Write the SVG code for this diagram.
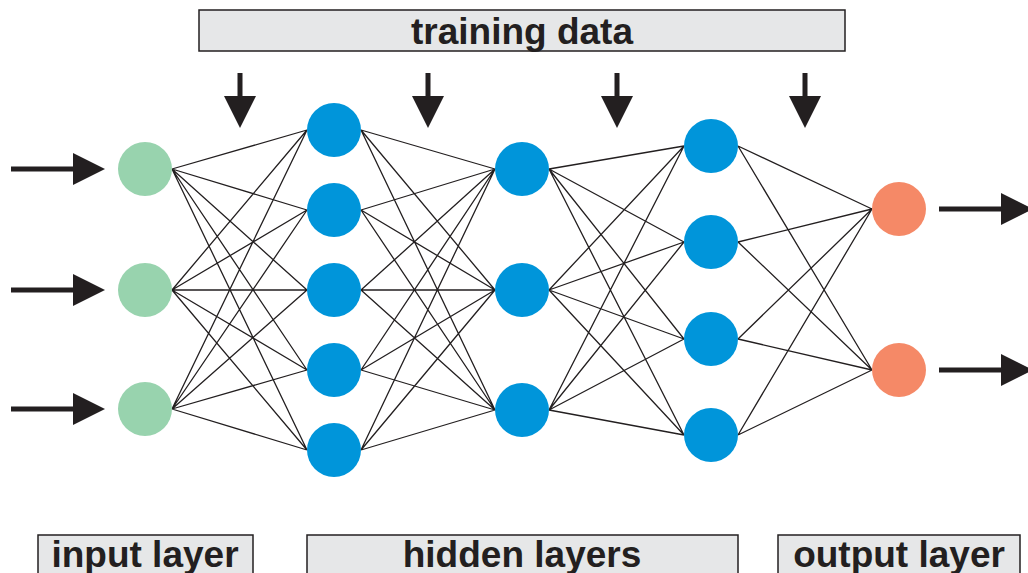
<svg xmlns="http://www.w3.org/2000/svg" width="1028" height="573" viewBox="0 0 1028 573">
  <style>
    .label-box { fill: #e6e7e8; stroke: #231f20; stroke-width: 1.5; }
    .label { font-family: "Liberation Sans", Arial, sans-serif; font-weight: bold; font-size: 37px; fill: #231f20; text-anchor: middle; }
    .edge { fill: none; stroke: #231f20; stroke-width: 1.3; }
    .arrow { fill: #231f20; }
    .in { fill: #98d3ae; }
    .hid { fill: #0095da; }
    .out { fill: #f58967; }
  </style>

  <!-- banner and layer captions -->
  <g id="training-data">
    <rect class="label-box" x="199" y="10" width="646" height="41"/>
    <text class="label" x="522" y="44">training data</text>
  </g>
  <g id="input-layer-label">
    <rect class="label-box" x="38" y="535" width="215" height="45"/>
    <text class="label" x="145" y="567">input layer</text>
  </g>
  <g id="hidden-layers-label">
    <rect class="label-box" x="307" y="535" width="431" height="45"/>
    <text class="label" x="522" y="567">hidden layers</text>
  </g>
  <g id="output-layer-label">
    <rect class="label-box" x="778" y="535" width="242" height="45"/>
    <text class="label" x="899" y="567">output layer</text>
  </g>

  <!-- weighted connections between consecutive layers -->
  <g id="connectors">
    <path class="edge" d="
      M172 169 L307 130 M172 169 L307 210 M172 169 L307 290 M172 169 L307 370 M172 169 L307 450
      M172 290 L307 130 M172 290 L307 210 M172 290 L307 290 M172 290 L307 370 M172 290 L307 450
      M172 409 L307 130 M172 409 L307 210 M172 409 L307 290 M172 409 L307 370 M172 409 L307 450"/>
    <path class="edge" d="
      M361 130 L495 169 M361 130 L495 290 M361 130 L495 410
      M361 210 L495 169 M361 210 L495 290 M361 210 L495 410
      M361 290 L495 169 M361 290 L495 290 M361 290 L495 410
      M361 370 L495 169 M361 370 L495 290 M361 370 L495 410
      M361 450 L495 169 M361 450 L495 290 M361 450 L495 410"/>
    <path class="edge" d="
      M549 169 L684 146 M549 169 L684 242 M549 169 L684 339 M549 169 L684 435
      M549 290 L684 146 M549 290 L684 242 M549 290 L684 339 M549 290 L684 435
      M549 410 L684 146 M549 410 L684 242 M549 410 L684 339 M549 410 L684 435"/>
    <path class="edge" d="
      M738 146 L872 209 M738 146 L872 370
      M738 242 L872 209 M738 242 L872 370
      M738 339 L872 209 M738 339 L872 370
      M738 435 L872 209 M738 435 L872 370"/>

    <!-- input arrows -->
    <g class="arrow">
      <rect x="11" y="166.5" width="64" height="5"/><polygon points="73,153 105,169 73,185"/>
      <rect x="11" y="287.5" width="64" height="5"/><polygon points="73,274 105,290 73,306"/>
      <rect x="11" y="406.5" width="64" height="5"/><polygon points="73,393 105,409 73,425"/>
    </g>
    <!-- output arrows -->
    <g class="arrow">
      <rect x="939" y="206.5" width="64" height="5"/><polygon points="1001,193 1033,209 1001,225"/>
      <rect x="939" y="367.5" width="64" height="5"/><polygon points="1001,354 1033,370 1001,386"/>
    </g>
    <!-- training data feed arrows -->
    <g class="arrow">
      <rect x="237.5" y="73" width="5" height="25"/><polygon points="224,96 256,96 240,128"/>
      <rect x="425.5" y="73" width="5" height="25"/><polygon points="412,96 444,96 428,128"/>
      <rect x="614.5" y="73" width="5" height="25"/><polygon points="601,96 633,96 617,128"/>
      <rect x="802.5" y="73" width="5" height="25"/><polygon points="789,96 821,96 805,128"/>
    </g>
  </g>

  <!-- input layer -->
  <g id="in1"><circle class="in" cx="145" cy="169" r="27"/></g>
  <g id="in2"><circle class="in" cx="145" cy="290" r="27"/></g>
  <g id="in3"><circle class="in" cx="145" cy="409" r="27"/></g>

  <!-- hidden layer 1 -->
  <g id="h1a"><circle class="hid" cx="334" cy="130" r="27"/></g>
  <g id="h1b"><circle class="hid" cx="334" cy="210" r="27"/></g>
  <g id="h1c"><circle class="hid" cx="334" cy="290" r="27"/></g>
  <g id="h1d"><circle class="hid" cx="334" cy="370" r="27"/></g>
  <g id="h1e"><circle class="hid" cx="334" cy="450" r="27"/></g>

  <!-- hidden layer 2 -->
  <g id="h2a"><circle class="hid" cx="522" cy="169" r="27"/></g>
  <g id="h2b"><circle class="hid" cx="522" cy="290" r="27"/></g>
  <g id="h2c"><circle class="hid" cx="522" cy="410" r="27"/></g>

  <!-- hidden layer 3 -->
  <g id="h3a"><circle class="hid" cx="711" cy="146" r="27"/></g>
  <g id="h3b"><circle class="hid" cx="711" cy="242" r="27"/></g>
  <g id="h3c"><circle class="hid" cx="711" cy="339" r="27"/></g>
  <g id="h3d"><circle class="hid" cx="711" cy="435" r="27"/></g>

  <!-- output layer -->
  <g id="out1"><circle class="out" cx="899" cy="209" r="27"/></g>
  <g id="out2"><circle class="out" cx="899" cy="370" r="27"/></g>
</svg>
